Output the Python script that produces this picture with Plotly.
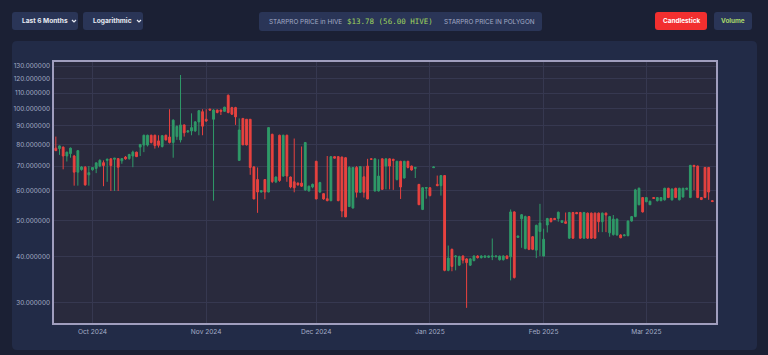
import plotly.graph_objects as go
import pandas as pd

# ---------------- data (daily OHLC, STARPRO price in HIVE) ----------------
start_date = "2024-09-21"
open_ = [78.2, 78, 78.7, 74.5, 75.6, 74.5, 67.4, 68.5, 69.5, 66.3,
         68.4, 69, 70, 71.5, 72.5, 73.2, 73, 73.3, 72.3, 74,
         73.3, 74.5, 76.3, 78.7, 79.7, 79.7, 84.7, 84.7, 81.8, 79,
         84.7, 83.8, 81, 84, 82.3, 90.3, 86.5, 87, 87, 92,
         98, 93.5, 99.6, 93.5, 99, 99, 98.2, 108.5, 100.5, 100.5,
         72.5, 94, 93.5, 93.5, 69.6, 64.4, 59.6, 64.4, 59.6, 85.2,
         63.5, 84.7, 65.8, 84.7, 65.4, 63.5, 63, 63, 60.4, 60,
         61.5, 72.1, 59.6, 59, 57.2, 56.5, 74.2, 74.2, 74, 73.7,
         54.5, 54, 69.4, 59.5, 65.5, 70, 73.2, 60, 60, 73.2,
         70, 73.2, 73, 64.4, 72.1, 65, 72.1, 70, 69,
         62.5, 53.5, 61, 61.2, 69.3, 62.5, 62, 66, 36.7, 41.8,
         39.9, 37.9, 40.1, 39.4, 37.9, 39, 40.1, 39.7, 39.8, 39.8,
         39.9, 39.9, 39.2, 39.2, 40.1, 39.9, 52.7,
         45, 50.5, 42, 51.2, 45.2, 41.6, 46.7, 40.1, 48.6, 50.6,
         50.6, 50.6, 49.4, 49.6, 44.8, 52.5, 52.5, 52.5, 44.8, 52.3,
         52.3, 52.3, 52.3, 49.6, 52.3, 46.3, 45.8, 45.7, 45.7, 45.5,
         45.5, 49.8, 51.2, 55.1, 57.6, 56.1, 55.1, 57.6, 56.5, 56.5,
         56.8, 61, 56.8, 61, 56.8, 57.8, 60.6, 57.6, 70.3, 70,
         57.6, 69.4, 69.4, 56.5]
high = [84, 79.5, 79, 76.5, 78.5, 75, 77.2, 70, 70, 70,
        69.6, 71.5, 73, 72.5, 73.3, 73.5, 73.5, 73.5, 73.5, 74.5,
        75.5, 77, 76.5, 80.3, 85, 85, 85, 85, 84.7, 84.7,
        85, 99.5, 93.5, 90, 123, 90.5, 87.5, 97, 92.5, 99,
        99.5, 99.5, 99.8, 99.5, 99.3, 99.3, 101, 109, 101, 101,
        94, 94, 93.5, 93.5, 70, 69.4, 60.3, 64.5, 89, 85.5,
        65.6, 85, 85, 85, 65.6, 83, 63.2, 79, 81.2, 62,
        62.8, 72.3, 63.5, 59.2, 74.5, 74.5, 74.4, 74.4, 74.2, 74,
        70, 69.6, 70, 70, 69.8, 73.2, 73.4, 73.4, 73, 73.4,
        73.4, 73.4, 73.2, 72.3, 72.3, 72.3, 72.3, 70.2, 69.6,
        62.6, 61.4, 61.5, 61.4, 69.8, 66, 66.2, 66.2, 42.8, 42,
        40.3, 40.2, 40.3, 39.6, 39.6, 40.3, 40.3, 40.3, 40.3, 40.2,
        44.7, 40.2, 40.2, 40.3, 40.3, 53.5, 52.9,
        45.5, 52, 51.5, 51.4, 45.4, 48.7, 55.4, 47.5, 50.8, 50.8,
        50.8, 52.8, 50, 52.5, 52.7, 52.7, 52.7, 52.7, 52.7, 52.5,
        52.5, 52.5, 52.5, 52.5, 52.5, 51.4, 51.7, 50.6, 45.9, 45.9,
        50, 51.4, 60.8, 61.3, 57.8, 57.8, 56.5, 57.8, 57.8, 57.8,
        61.2, 61.2, 61, 61.2, 61.2, 61.2, 61.2, 70.5, 70.5, 70.2,
        57.8, 69.6, 69.6, 56.7]
low = [76.8, 75, 68.6, 72, 73.7, 62, 62, 68, 62, 62,
       68, 67, 69.5, 61.8, 63.5, 60, 60, 60, 71, 72.8,
       72.8, 69.5, 74, 74.5, 76.3, 79, 80.5, 78, 78.5, 78.5,
       82, 80.5, 73.7, 82.3, 81, 84, 86, 84.7, 86.5, 84.7,
       84.7, 92, 98.5, 56.5, 97, 96, 98, 97, 96, 90.3,
       72.5, 79.8, 79.5, 66.3, 57, 52.4, 59.4, 57, 59.5, 63,
       63, 63.5, 65.5, 63.5, 61, 59.5, 62, 61.5, 60, 59.8,
       61, 57, 59.3, 56.8, 56.3, 56.3, 73.3, 56.3, 51, 51,
       54.3, 53.8, 57.6, 59.3, 57.6, 57, 72.8, 59.8, 59.8, 60.4,
       60.6, 60.6, 60.4, 64, 57.1, 64.8, 69, 68, 65,
       55, 53.3, 57.2, 58, 69.2, 61.8, 58.3, 36.5, 36.5, 36.5,
       36.7, 37.7, 38.3, 29.1, 37.7, 38.8, 39.5, 39.5, 39.6, 39.6,
       39.1, 39.8, 39, 39, 39.3, 34.5, 34.9,
       44.9, 42.2, 41.8, 41.6, 41.6, 39.6, 40.1, 40, 46.4, 49.4,
       50.1, 49.6, 49.2, 49, 44.6, 44.6, 52, 44.6, 44.6, 44.6,
       44.6, 44.6, 46.5, 46.5, 46.5, 45.2, 45.5, 45.5, 44.8, 45.3,
       45.3, 49.6, 51, 54.9, 52.5, 56, 55, 57.1, 56.2, 56.3,
       56.5, 57.4, 56.5, 57.4, 56.6, 57.6, 60.4, 57.4, 60.3, 57.4,
       56.7, 57.4, 56.8, 56]
close = [77, 79.3, 74.5, 76.3, 78.2, 67.4, 77, 69.6, 62.3, 67.2,
         69.4, 71.4, 72.5, 70.2, 73, 70.2, 73.5, 69.5, 73.3, 73.2,
         75.2, 76.3, 74.2, 80, 84.7, 84.7, 81, 79.5, 79.6, 84.5,
         82.3, 81, 93, 89.5, 90.3, 86, 87, 88.8, 92, 98.6,
         89.6, 92.5, 99, 99, 97.5, 98.2, 100.8, 97.5, 96.5, 94.9,
         87.5, 79.8, 79.8, 69.4, 57.1, 59.6, 60.1, 59.6, 88.8, 63.6,
         65.4, 64, 84.7, 65.8, 61.5, 61.2, 62.3, 61.8, 81, 61.8,
         62.5, 57.1, 63.2, 57.1, 56.5, 74.2, 73.5, 56.5, 53, 51.1,
         69.4, 69.4, 59.5, 69.8, 59.5, 57.1, 73, 73.2, 65.8, 60.6,
         73.2, 70, 72.5, 72.1, 61.5, 72.1, 69.4, 68.3, 69.4,
         55.1, 61.2, 61.3, 58.3, 69.6, 62, 66, 36.7, 39.6, 37.6,
         40.1, 40, 39.1, 38.5, 39.4, 40.1, 39.7, 40.1, 40.1, 40.1,
         40.1, 40.1, 40.1, 40.1, 39.5, 52.7, 35.1,
         45.4, 51.8, 51.2, 41.8, 41.8, 48.5, 49.2, 44.5, 50.6, 49.6,
         50.3, 52.6, 49.9, 49.1, 52.5, 44.8, 52.1, 44.8, 52.5, 44.8,
         44.8, 44.8, 49.6, 52.3, 51.7, 51.2, 50.4, 50.4, 44.9, 45.7,
         49.8, 51.2, 60.4, 61, 52.7, 57.6, 56.3, 57.3, 57.6, 57.6,
         61, 57.6, 60.7, 57.6, 61, 61, 61, 70.3, 69.8, 57.6,
         56.9, 57.6, 59.6, 56.2]

y_ticks = [30, 40, 50, 60, 70, 80, 90, 100, 110, 120, 130]
y_tick_text = [f"{v:.6f}" for v in y_ticks]
x_ticks = ["2024-10-01", "2024-11-01", "2024-12-01", "2025-01-01", "2025-02-01", "2025-03-01"]
x_tick_text = ["Oct 2024", "Nov 2024", "Dec 2024", "Jan 2025", "Feb 2025", "Mar 2025"]

dates = pd.date_range(start_date, periods=len(close), freq="D")

# ---------------- layout geometry (pixels) ----------------
W, H = 768, 355
PL, PR, PT, PB = 54, 716, 62, 323


def px(x):
    return (x - PL) / (PR - PL)


def py(y):
    return (PB - y) / (PB - PT)


def rrect(x0, y0, x1, y1, r):
    pts = [
        f"M {px(x0 + r)},{py(y0)}",
        f"L {px(x1 - r)},{py(y0)}",
        f"Q {px(x1)},{py(y0)} {px(x1)},{py(y0 + r)}",
        f"L {px(x1)},{py(y1 - r)}",
        f"Q {px(x1)},{py(y1)} {px(x1 - r)},{py(y1)}",
        f"L {px(x0 + r)},{py(y1)}",
        f"Q {px(x0)},{py(y1)} {px(x0)},{py(y1 - r)}",
        f"L {px(x0)},{py(y0 + r)}",
        f"Q {px(x0)},{py(y0)} {px(x0 + r)},{py(y0)}",
        "Z",
    ]
    return " ".join(pts)


PAGE_BG = "#1b2034"
PANEL = "#222b47"
CTRL = "#2a3557"
PLOT_BG = "#292a3d"
GRID = "#363850"
TICK = "#a3abc6"
INC = "#2f9a68"
DEC = "#e8423f"

fig = go.Figure()
fig.add_trace(go.Candlestick(
    x=dates, open=open_, high=high, low=low, close=close,
    increasing=dict(line=dict(color=INC, width=1), fillcolor=INC),
    decreasing=dict(line=dict(color=DEC, width=1), fillcolor=DEC),
    whiskerwidth=0, showlegend=False, hoverinfo="x+y",
))

shapes = []
shapes.append(dict(type="path", path=rrect(12, 41, 757, 350, 5), xref="paper", yref="paper",
                   fillcolor=PANEL, line=dict(width=0), layer="below"))
shapes.append(dict(type="rect", x0=0, x1=1, y0=0, y1=1, xref="paper", yref="paper",
                   fillcolor=PLOT_BG, line=dict(width=0), layer="below"))
for (x0, x1) in [(12, 78), (83, 143)]:
    shapes.append(dict(type="path", path=rrect(x0, 12, x1, 30, 3), xref="paper", yref="paper",
                       fillcolor=CTRL, line=dict(width=0), layer="below"))
shapes.append(dict(type="path", path=rrect(259, 12, 542, 31, 3), xref="paper", yref="paper",
                   fillcolor=CTRL, line=dict(width=0), layer="below"))
shapes.append(dict(type="path", path=rrect(655, 12, 707, 30, 3), xref="paper", yref="paper",
                   fillcolor="#f22f2f", line=dict(width=0), layer="below"))
shapes.append(dict(type="path", path=rrect(714, 12, 752, 30, 3), xref="paper", yref="paper",
                   fillcolor=CTRL, line=dict(width=0), layer="below"))
for cx in [74, 139]:
    shapes.append(dict(type="path",
                       path=f"M {px(cx - 2)},{py(20)} L {px(cx)},{py(22)} L {px(cx + 2)},{py(20)}",
                       xref="paper", yref="paper", line=dict(color="#e6e9f2", width=1.2)))

ann = []


def text(x, y, s, color, size, anchor="left", family="Inter", bold=False):
    if bold:
        s = f"<b>{s}</b>"
    ann.append(dict(x=px(x), y=py(y), xref="paper", yref="paper", text=s, showarrow=False,
                    xanchor=anchor, yanchor="middle",
                    font=dict(color=color, size=size, family=family)))


text(19.5, 21, "Last 6 Months", "#e6e9f2", 6.6, bold=True)
text(90.5, 21, "Logarithmic", "#e6e9f2", 6.6, bold=True)
text(266.5, 21.5, "STARPRO PRICE in HIVE", "#a3abc6", 6.4)
text(344.5, 21.5, "$13.78 (56.00 HIVE)", "#9fd45e", 7.5, family="DejaVu Sans Mono")
text(442, 21.5, "STARPRO PRICE IN POLYGON", "#a3abc6", 6.4)
text(681, 21, "Candlestick", "#ffffff", 6.4, anchor="center", bold=True)
text(733, 21, "Volume", "#a8d86b", 6.4, anchor="center", bold=True)

fig.update_layout(
    width=W, height=H,
    margin=dict(l=PL, r=W - PR, t=PT, b=H - PB, pad=0),
    paper_bgcolor=PAGE_BG, plot_bgcolor=PLOT_BG,
    shapes=shapes, annotations=ann,
    font=dict(family="Inter", color=TICK, size=7),
    showlegend=False,
    xaxis=dict(
        type="date", range=["2024-09-20 12:00", "2025-03-20 00:00"],
        rangeslider=dict(visible=False),
        tickvals=x_ticks, ticktext=x_tick_text,
        showgrid=True, gridcolor=GRID, gridwidth=1,
        showline=True, linecolor="#a09ebe", linewidth=1.5, mirror=True,
        ticks="", ticklabelstandoff=1, tickfont=dict(size=6.6, color=TICK),
        zeroline=False,
    ),
    yaxis=dict(
        type="log", range=[1.4232, 2.1248],
        tickvals=y_ticks, ticktext=y_tick_text,
        showgrid=True, gridcolor=GRID, gridwidth=1,
        showline=True, linecolor="#a09ebe", linewidth=1.5, mirror=True,
        ticks="", ticklabelstandoff=1, tickfont=dict(size=6.4, color=TICK),
        zeroline=False,
    ),
)

fig.write_html(
    "out.html",
    config={"displayModeBar": False},
    post_script="document.body.style.margin='0';document.body.style.background='#1b2034';"
                "document.body.style.overflow='hidden';",
)
